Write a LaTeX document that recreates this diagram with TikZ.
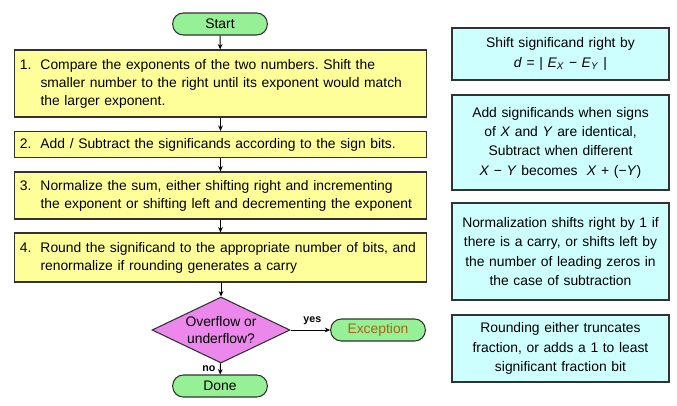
\documentclass[tikz,border=0pt]{standalone}
\usepackage{fontspec}
\setmainfont{Liberation Sans}
\usetikzlibrary{shapes.geometric,arrows.meta}
\definecolor{stepyellow}{RGB}{255,255,153}
\definecolor{termgreen}{RGB}{150,240,150}
\definecolor{testviolet}{RGB}{236,136,236}
\definecolor{notecyan}{RGB}{206,255,255}
\definecolor{edgegray}{RGB}{50,50,50}
\definecolor{exbrown}{RGB}{175,100,20}
\frenchspacing
\newcommand{\stepnum}[1]{\makebox[15.5pt][l]{#1}}
\tikzset{
  stepbox/.style={draw=edgegray, line width=0.9pt, fill=stepyellow,
    text width=301pt, inner xsep=4pt, align=left,
    font=\fontsize{10.4}{13.5}\selectfont},
  notebox/.style={draw=edgegray, line width=0.9pt, fill=notecyan,
    text width=156pt, minimum width=162.75pt, align=center,
    font=\fontsize{10.4}{14.5}\selectfont},
  termbox/.style={draw=edgegray, line width=0.8pt, fill=termgreen,
    rounded corners=8pt, minimum width=71pt, minimum height=16.5pt,
    inner sep=0pt, font=\fontsize{10.4}{12}\selectfont},
  testbox/.style={draw=edgegray, line width=0.8pt, fill=testviolet,
    diamond, aspect=2.09, minimum width=103.5pt, minimum height=49.5pt,
    inner sep=0pt, align=center, font=\fontsize{10.4}{12.5}\selectfont},
  flow/.style={->, line width=0.7pt},
  tag/.style={font=\bfseries\fontsize{8}{10}\selectfont}
}
\begin{document}
\begin{tikzpicture}[x=0.75pt, y=-0.75pt, >={Stealth[length=4pt,width=3.5pt]}]
\useasboundingbox (0,0) rectangle (677,405);
% flow column
\node[termbox] (start) at (220,24) {Start};
\node[stepbox, minimum height=50.25pt] (s1) at (220.5,83.5)
  {\stepnum{1.}Compare the exponents of the two numbers. Shift the\\
   \stepnum{}smaller number to the right until its exponent would match\\
   \stepnum{}the larger exponent.};
\node[stepbox, minimum height=19.5pt] (s2) at (220.5,144.5)
  {\stepnum{2.}Add / Subtract the significands according to the sign bits.};
\node[stepbox, minimum height=35.25pt] (s3) at (220.5,195.5)
  {\stepnum{3.}Normalize the sum, either shifting right and incrementing\\
   \stepnum{}the exponent or shifting left and decrementing the exponent};
\node[stepbox, minimum height=36.75pt] (s4) at (220.5,257.5)
  {\stepnum{4.}Round the significand to the appropriate number of bits, and\\
   \stepnum{}renormalize if rounding generates a carry};
\node[testbox] (ovf) at (221,330) {Overflow or\\underflow?};
\node[termbox, text=exbrown] (exc) at (378,330) {Exception};
\node[termbox] (done) at (220,386) {Done};
\draw[flow] (start) -- (s1);
\draw[flow] (s1) -- (s2);
\draw[flow] (s2) -- (s3);
\draw[flow] (s3) -- (s4);
\draw[flow] (s4.south -| ovf.north) -- (ovf);
\draw[flow] (ovf) -- node[tag, above, pos=0.55] {yes} (exc);
\draw[flow] (ovf) -- node[tag, left, pos=0.45] {no} (done);
% side notes
\node[notebox, minimum height=39pt] (n1) at (560.5,54)
  {Shift significand right by\\
   \textit{d} = | \textit{E}\textsubscript{\textit{X}} − \textit{E}\textsubscript{\textit{Y}} |};
\node[notebox, minimum height=71.25pt] (n2) at (560.5,142.5)
  {Add significands when signs\\
   of \textit{X} and \textit{Y} are identical,\\
   Subtract when different\\
   \textit{X} − \textit{Y} becomes \ \textit{X} + (−\textit{Y})};
\node[notebox, minimum height=72.75pt] (n3) at (560.5,251.5)
  {Normalization shifts right by 1 if\\
   there is a carry, or shifts left by\\
   the number of leading zeros in\\
   the case of subtraction};
\node[notebox, minimum height=50.25pt] (n4) at (560.5,348.5)
  {Rounding either truncates\\
   fraction, or adds a 1 to least\\
   significant fraction bit};
\end{tikzpicture}
\end{document}
